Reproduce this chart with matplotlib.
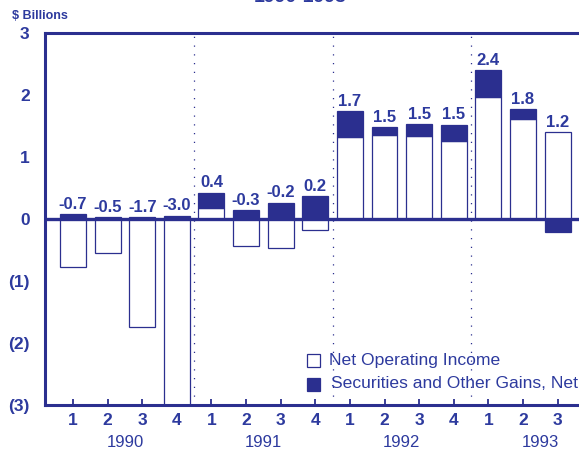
import matplotlib.pyplot as plt
import numpy as np

# Quarterly data, 1990 Q1 - 1993 Q3 ($ billions)
quarters = ['1', '2', '3', '4', '1', '2', '3', '4', '1', '2', '3', '4', '1', '2', '3']
years = ['1990', '1991', '1992', '1993']
net_operating = [-0.78, -0.55, -1.74, -3.05, 0.18, -0.44, -0.46, -0.18,
                 1.32, 1.35, 1.34, 1.26, 1.97, 1.61, 1.40]
securities = [0.08, 0.03, 0.03, 0.05, 0.24, 0.14, 0.26, 0.37,
              0.42, 0.13, 0.19, 0.26, 0.43, 0.16, -0.21]
totals = ['-0.7', '-0.5', '-1.7', '-3.0', '0.4', '-0.3', '-0.2', '0.2',
          '1.7', '1.5', '1.5', '1.5', '2.4', '1.8', '1.2']
ytick_vals = [3, 2, 1, 0, -1, -2, -3]
ytick_labels = ['3', '2', '1', '0', '(1)', '(2)', '(3)']

BLUE = '#2b2f8f'
TEXT = '#2d3a9e'
W, H = 579, 449


def main():
    fig = plt.figure(figsize=(5.79, 4.49), dpi=100)
    ax = fig.add_axes([45 / W, 44 / H, 1 - 45 / W, 372 / H])

    x = np.arange(len(quarters))
    noi = np.array(net_operating)
    sec = np.array(securities)
    width = 0.75

    # positive parts stack upward from zero, negative parts downward
    noi_base = np.zeros(len(x))
    sec_base = np.where((sec >= 0) & (noi >= 0), noi, 0.0)
    sec_base = np.where((sec < 0) & (noi < 0), noi, sec_base)

    ax.bar(x, noi, width, bottom=noi_base, color='white', edgecolor=BLUE,
           linewidth=0.9, zorder=2)
    ax.bar(x, sec, width, bottom=sec_base, color=BLUE, edgecolor=BLUE,
           linewidth=0.9, zorder=2)

    for i in range(len(x)):
        top = max(0, noi[i]) + max(0, sec[i])
        ax.text(x[i], top + 0.04, totals[i], ha='center', va='bottom',
                fontsize=12, fontweight='bold', color=TEXT,
                family='Liberation Sans')

    ax.axhline(0, color=BLUE, linewidth=2.4, zorder=3)
    for sep in [3.5, 7.5, 11.5]:
        ax.axvline(sep, color=BLUE, linestyle=(0, (1, 6)), linewidth=0.9,
                   zorder=1)

    ax.set_xlim(-0.81, 14.62)
    ax.set_ylim(-3, 3)
    ax.set_xticks(x)
    ax.set_xticklabels(quarters, fontsize=12.5, fontweight='bold', color=TEXT,
                       family='Liberation Sans')
    ax.set_yticks(ytick_vals)
    ax.set_yticklabels(ytick_labels, fontsize=12.5, fontweight='bold',
                       color=TEXT, family='Liberation Sans')
    ax.tick_params(axis='x', direction='in', length=4, width=1.3,
                   color=BLUE, pad=6)
    ax.tick_params(axis='y', length=0, pad=11)

    for side in ['left', 'top', 'bottom']:
        ax.spines[side].set_color(BLUE)
        ax.spines[side].set_linewidth(2.2)
    ax.spines['right'].set_visible(False)

    for j, yr in enumerate(years):
        fig.text((73 + 34.6 * (j * 4 + 1.5)) / W, 1 - 435 / H, yr,
                 ha='center', va='top', fontsize=12, color=TEXT,
                 family='Liberation Sans')

    # legend drawn by hand, it runs off the right edge like the original
    fig.patches.append(plt.Rectangle((307 / W, 1 - 367 / H), 13 / W, 13 / H,
                                     transform=fig.transFigure,
                                     facecolor='white', edgecolor=BLUE,
                                     linewidth=0.9))
    fig.patches.append(plt.Rectangle((307 / W, 1 - 391 / H), 13 / W, 13 / H,
                                     transform=fig.transFigure,
                                     facecolor=BLUE, edgecolor=BLUE,
                                     linewidth=0.9))
    fig.text(329 / W, 1 - 361 / H, 'Net Operating Income', ha='left',
             va='center', fontsize=12.6, color=TEXT, family='Liberation Sans')
    fig.text(331 / W, 1 - 384 / H, 'Securities and Other Gains, Net',
             ha='left', va='center', fontsize=12.6, color=TEXT,
             family='Liberation Sans')

    fig.text(12 / W, 1 - 22 / H, '$ Billions', ha='left', va='bottom',
             fontsize=9, fontweight='bold', color=TEXT,
             family='Liberation Sans')
    fig.text(300 / W, 1 - 6 / H, '1990-1993', ha='center', va='bottom',
             fontsize=14, fontweight='bold', color=TEXT,
             family='Liberation Sans')

    plt.savefig('out.png', dpi=100)
    plt.close()


if __name__ == "__main__":
    main()
